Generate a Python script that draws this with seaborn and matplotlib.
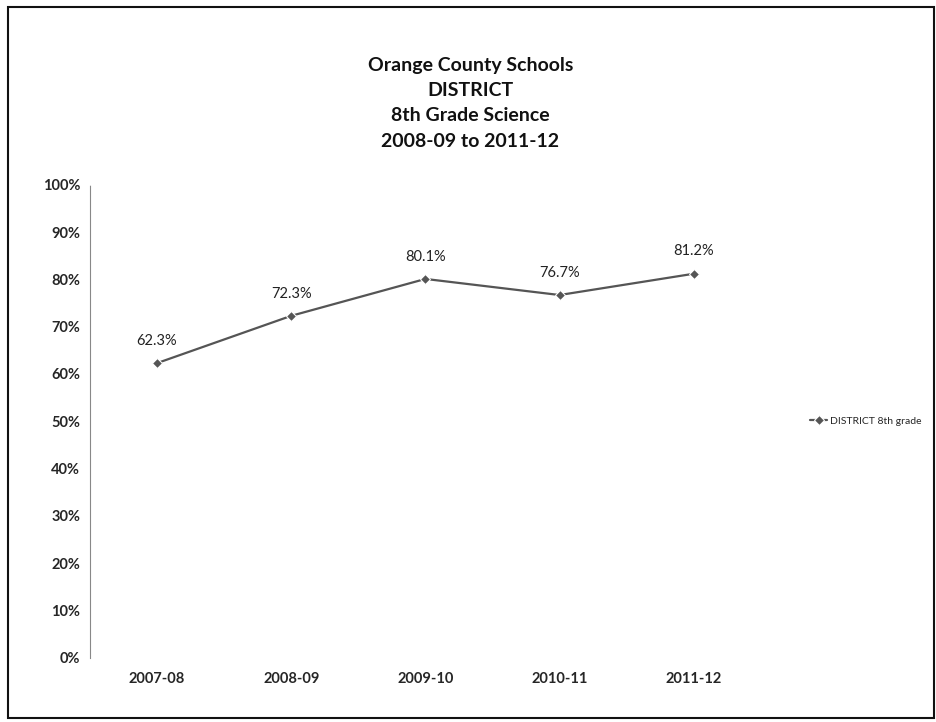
import numpy as np
import pandas as pd
import matplotlib.pyplot as plt
import seaborn as sns
from matplotlib.patches import Rectangle

# data
years = ['2007-08', '2008-09', '2009-10', '2010-11', '2011-12']
district_pct = [62.3, 72.3, 80.1, 76.7, 81.2]
series_name = 'DISTRICT 8th grade'
title_lines = ['Orange County Schools', 'DISTRICT', '8th Grade Science', '2008-09 to 2011-12']

df = pd.DataFrame({'Year': years, 'Pct': district_pct, 'Series': series_name})

sns.set_style('white')
plt.rcParams['font.family'] = ['Lato', 'DejaVu Sans']

fig = plt.figure(figsize=(9.37, 7.22), dpi=100)
ax = fig.add_axes([0.096, 0.089, 0.716, 0.655])

sns.lineplot(
    data=df, x='Year', y='Pct', hue='Series',
    palette=['#555555'], marker='D', markersize=5,
    linewidth=1.6, sort=False, ax=ax
)

# data labels
for i, v in enumerate(district_pct):
    ax.annotate(f'{v:.1f}%', (i, v), xytext=(0, 11), textcoords='offset points',
                ha='center', va='bottom', fontsize=10.5, color='#222222')

ax.set_ylim(0, 100)
ax.set_xlim(-0.5, 4.5)
ax.set_yticks(np.arange(0, 101, 10))
ax.set_yticklabels([f'{t}%' for t in range(0, 101, 10)], fontsize=10.5, fontweight='bold')
ax.set_xticks(range(len(years)))
ax.set_xticklabels(years, fontsize=10.5, fontweight='bold')
ax.set_xticks(np.arange(-0.5, 5), minor=True)
ax.tick_params(axis='x', which='major', length=0, pad=10)
ax.tick_params(axis='x', which='minor', length=3, width=0.8, color='#999999', direction='out')
ax.tick_params(axis='y', length=0, pad=7)
ax.set_xlabel('')
ax.set_ylabel('')

for s in ['top', 'right', 'bottom']:
    ax.spines[s].set_visible(False)
ax.spines['left'].set_color('#888888')
ax.spines['left'].set_linestyle((0, (1, 1)))
ax.spines['left'].set_linewidth(0.8)

leg = ax.legend(loc='center left', bbox_to_anchor=(1.06, 0.5), frameon=False,
                fontsize=7.5, handlelength=1.6, handletextpad=0.3)

fig.text(0.502, 0.857, '\n'.join(title_lines), ha='center', va='center',
         fontsize=14, fontweight='bold', linespacing=1.6, color='#111111')

# outer frame
fig.patches.append(Rectangle((0.009, 0.006), 0.988, 0.984, transform=fig.transFigure,
                             fill=False, edgecolor='#111111', linewidth=1.5))

fig.savefig('out.png', dpi=100)
